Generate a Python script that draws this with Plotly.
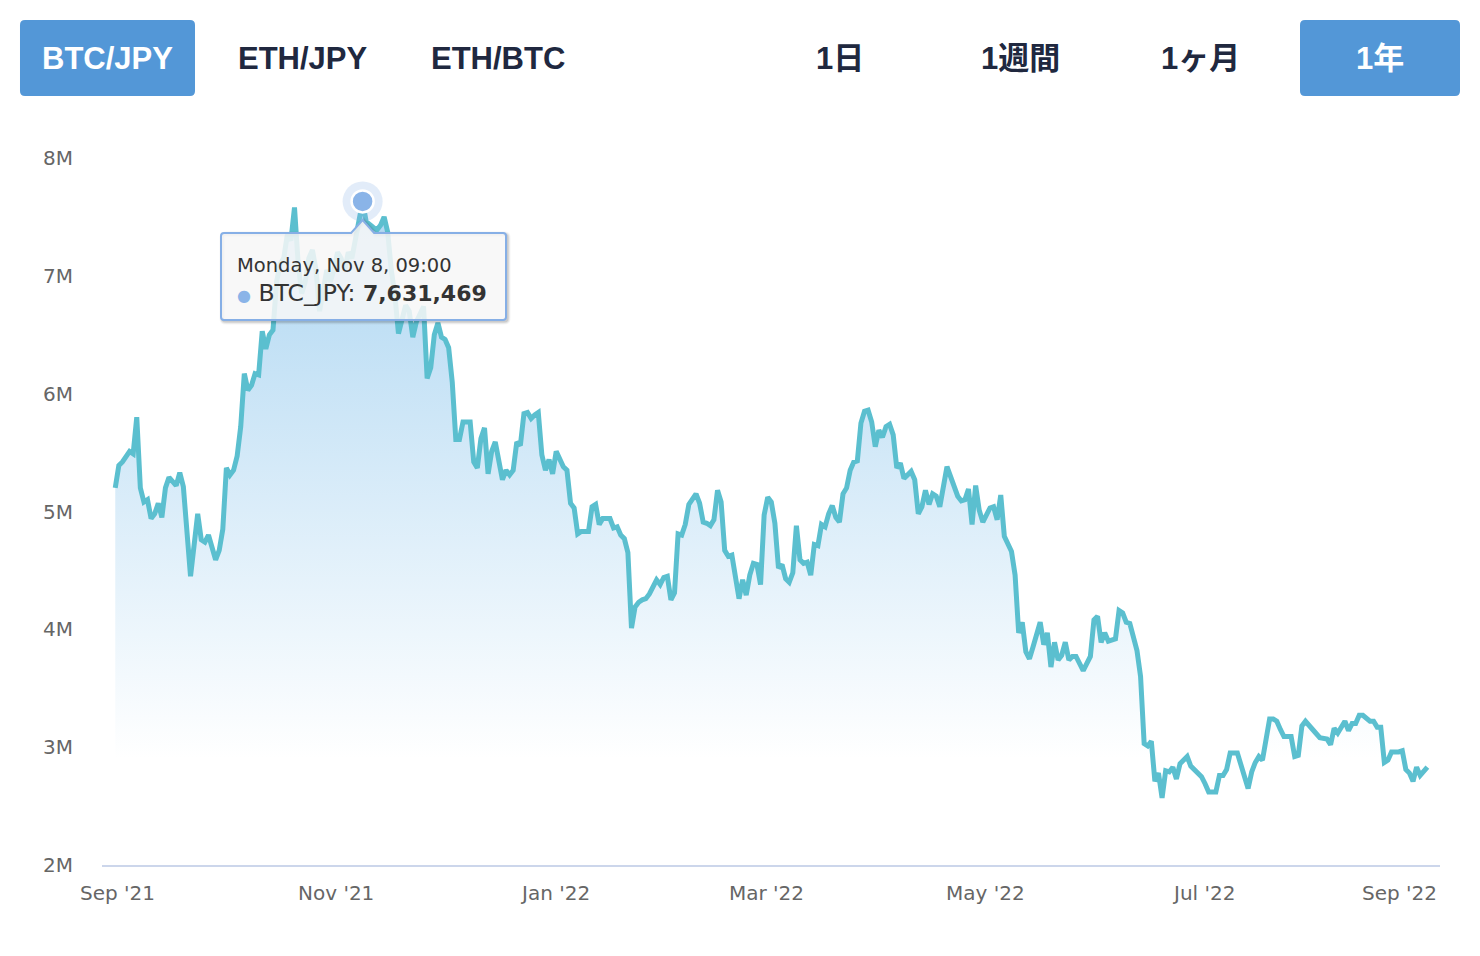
import numpy as np
import pandas as pd
import plotly.graph_objects as go

# ---------------- data ----------------
series_name = "BTC_JPY"
start_time = "2021-09-01 09:00"          # day 0 of the series (daily closes, 09:00 JST)

day_offsets = [
    -1, 0, 1, 3, 4, 5, 6, 7, 8, 9,
    10, 11, 12, 13, 14, 16, 17, 18, 20, 22,
    23, 24, 25, 27, 28, 29, 30, 31, 32, 33,
    34, 35, 36, 37, 38, 39, 40, 41, 42, 43,
    44, 45, 46, 47, 48, 49,
    50, 51, 52, 53, 54, 55, 56, 57, 58, 59,
    60, 61, 62, 63, 64, 65, 66, 67, 68, 69,
    70, 71, 72, 73, 74, 75, 76, 77, 78, 79,
    80, 81, 82, 83, 84, 85, 86, 87, 88, 89,
    90, 91, 92, 93, 94, 95, 96, 97, 98, 99,
    100, 101, 102, 103, 104, 105, 107, 108, 109, 110,
    111, 112, 113, 114, 115, 116, 117, 118, 119, 120,
    121, 122, 123, 124, 125, 126, 127, 128, 129, 130,
    131, 132, 133, 134, 135, 136, 137, 138, 139, 140,
    141, 142, 143, 144, 145, 146, 147, 148, 149,
    150, 151, 152, 153, 154, 155, 156, 157, 158, 159,
    160, 161, 162, 163, 164, 165, 166, 167, 168, 169,
    170, 171, 173, 174, 175, 176, 177, 178, 179, 180,
    181, 182, 183, 184, 185, 186, 187, 188, 189, 190,
    191, 192, 193, 194, 195, 196, 197, 198, 199,
    200, 201, 202, 203, 204, 205, 206, 207, 208, 209,
    210, 211, 212, 213, 214, 215, 216, 217, 218, 219,
    220, 221, 222, 223, 224, 225, 226, 227, 228, 229,
    231, 232, 234, 235, 236, 237, 238, 239, 240, 241,
    243, 244, 245, 246, 247, 249,
    250, 251, 252, 253, 254, 255, 256, 257, 258, 259,
    260, 261, 262, 263, 264, 265, 266, 267,
    269, 271, 272, 273, 274, 275, 276, 278, 279, 280,
    281, 282, 284, 285, 286, 287, 288, 289, 290, 291,
    292, 293, 294, 295, 296, 298, 299,
    301, 302, 303, 304, 306, 307, 308, 309, 310, 312,
    315, 316, 317, 318, 319, 320, 321, 322, 323, 324,
    325, 327, 328, 329, 330, 331, 332, 333, 335, 337,
    338, 339, 340, 342, 343, 344, 345, 346, 347, 349,
    350, 351, 352, 353, 354, 355, 357, 358, 359, 360,
    361, 362, 363, 365,
]

btc_jpy_millions = [
    5.20, 5.39, 5.42, 5.51, 5.49, 5.80, 5.20, 5.08, 5.10, 4.94,
    4.98, 5.07, 4.95, 5.20, 5.29, 5.22, 5.33, 5.21, 4.45, 4.98,
    4.76, 4.74, 4.80, 4.59, 4.67, 4.85, 5.37, 5.31, 5.35, 5.47,
    5.72, 6.17, 6.03, 6.07, 6.17, 6.16, 6.53, 6.38, 6.50, 6.54,
    6.95, 7.10, 7.15, 7.35, 7.30, 7.58,
    7.12, 6.85, 6.95, 7.15, 7.22, 7.05, 6.70, 6.90, 7.05, 6.95,
    7.05, 7.20, 7.15, 7.05, 7.20, 7.15, 7.30, 7.45, 7.631469, 7.46,
    7.43, 7.41, 7.39, 7.43, 7.50, 7.37, 7.05, 6.84, 6.51, 6.62,
    6.75, 6.70, 6.48, 6.61, 6.68, 6.74, 6.13, 6.22, 6.50, 6.60,
    6.48, 6.46, 6.39, 6.10, 5.61, 5.61, 5.76, 5.76, 5.76, 5.42,
    5.37, 5.62, 5.71, 5.32, 5.51, 5.59, 5.27, 5.35, 5.31, 5.35,
    5.59, 5.56, 5.83, 5.84, 5.79, 5.82, 5.84, 5.48, 5.35, 5.44,
    5.32, 5.51, 5.45, 5.38, 5.35, 5.07, 5.03, 4.81, 4.83, 4.83,
    4.83, 5.04, 5.06, 4.89, 4.94, 4.94, 4.94, 4.86, 4.87, 4.80,
    4.77, 4.65, 4.01, 4.19, 4.23, 4.25, 4.26, 4.30, 4.35,
    4.42, 4.38, 4.44, 4.45, 4.25, 4.31, 4.81, 4.80, 4.89, 5.06,
    5.11, 5.15, 5.07, 4.91, 4.90, 4.88, 4.93, 5.18, 5.08, 4.67,
    4.62, 4.63, 4.26, 4.42, 4.29, 4.46, 4.56, 4.55, 4.38, 4.97,
    5.12, 5.08, 4.90, 4.52, 4.55, 4.43, 4.40, 4.48, 4.88, 4.59,
    4.56, 4.57, 4.46, 4.72, 4.71, 4.89, 4.87, 4.98, 5.05,
    4.95, 4.91, 5.15, 5.20, 5.35, 5.42, 5.43, 5.75, 5.85, 5.86,
    5.76, 5.55, 5.69, 5.63, 5.72, 5.74, 5.65, 5.37, 5.41, 5.28,
    5.31, 5.34, 5.27, 4.98, 5.04, 5.18, 5.06, 5.15, 5.13, 5.04,
    5.38, 5.30, 5.13, 5.09, 5.10, 5.19, 4.89, 5.22, 5.01, 4.91,
    5.03, 5.04, 4.93, 5.14, 4.79, 4.66,
    4.46, 3.97, 4.06, 3.81, 3.75, 3.85, 3.95, 4.06, 3.87, 3.97,
    3.68, 3.89, 3.74, 3.78, 3.89, 3.74, 3.77, 3.77,
    3.65, 3.77, 4.08, 4.11, 3.89, 3.97, 3.90, 3.92, 4.16, 4.14,
    4.06, 4.05, 3.82, 3.60, 3.03, 3.01, 3.05, 2.71, 2.78, 2.57,
    2.80, 2.79, 2.83, 2.73, 2.86, 2.92, 2.84,
    2.77, 2.75, 2.69, 2.62, 2.62, 2.76, 2.76, 2.81, 2.95, 2.95,
    2.65, 2.79, 2.87, 2.92, 2.89, 3.09, 3.24, 3.24, 3.22, 3.15,
    3.09, 3.09, 2.92, 2.93, 3.18, 3.22, 3.19, 3.15, 3.08, 3.07,
    3.02, 3.16, 3.12, 3.22, 3.14, 3.20, 3.20, 3.27, 3.27, 3.22,
    3.22, 3.17, 3.17, 2.87, 2.89, 2.96, 2.96, 2.97, 2.81, 2.78,
    2.71, 2.83, 2.76, 2.83,
]

hover_day = 68   # the point under the tooltip

y_tick_values = [2e6, 3e6, 4e6, 5e6, 6e6, 7e6, 8e6]
y_tick_labels = ["2M", "3M", "4M", "5M", "6M", "7M", "8M"]
x_tick_dates = ["2021-09-01", "2021-11-01", "2022-01-01", "2022-03-01",
                "2022-05-01", "2022-07-01", "2022-09-01"]
x_tick_labels = ["Sep '21", "Nov '21", "Jan '22", "Mar '22",
                 "May '22", "Jul '22", "Sep '22"]

pair_buttons = ["BTC/JPY", "ETH/JPY", "ETH/BTC"]
period_buttons = ["1日", "1週間", "1ヶ月", "1年"]
active_pair = "BTC/JPY"
active_period = "1年"

assert len(day_offsets) == len(btc_jpy_millions)

# ---------------- derived series ----------------
dates = pd.Timestamp(start_time) + pd.to_timedelta(day_offsets, unit="D")
prices = np.round(np.array(btc_jpy_millions) * 1e6)
hi = day_offsets.index(hover_day)
hover_date = dates[hi]
hover_value = prices[hi]

# ---------------- styling / layout constants ----------------
W, H = 1480, 956
PL, PR, PT, PB = 102, 1440, 158, 865          # plot area in pixels
LINE = "#5bbfcf"
BTN = "#5397d7"
DARK = "#20283f"
AXIS_TXT = "#666666"
POINT = "#8ab4e8"
TIP_BORDER = "#86afe6"
AX_FONT = "DejaVu Sans"
BTN_FONT = "Liberation Sans, Arial, Noto Sans CJK JP"


def pxx(x):
    return (x - PL) / (PR - PL)


def pxy(y):
    return (PB - y) / (PB - PT)


def rounded_rect_paper(x0, y0, x1, y1, r):
    pts = [
        ("M", [(x0 + r, y0)]), ("L", [(x1 - r, y0)]), ("Q", [(x1, y0), (x1, y0 + r)]),
        ("L", [(x1, y1 - r)]), ("Q", [(x1, y1), (x1 - r, y1)]),
        ("L", [(x0 + r, y1)]), ("Q", [(x0, y1), (x0, y1 - r)]),
        ("L", [(x0, y0 + r)]), ("Q", [(x0, y0), (x0 + r, y0)]),
    ]
    s = ""
    for cmd, ps in pts:
        s += cmd + " " + " ".join(f"{pxx(a):.5f},{pxy(b):.5f}" for a, b in ps) + " "
    return s + "Z"


def anchored_path(cmds):
    """Path in pixel offsets (dx, down) relative to the hovered point."""
    s = ""
    for cmd, ps in cmds:
        s += cmd + " " + " ".join(f"{dx:.2f},{-dn:.2f}" for dx, dn in ps) + " "
    return s + "Z"


shapes = []
annotations = []

# ---- selector buttons ----
pair_left = [20, 215, 410]
period_left = [760, 940, 1120, 1300]
for label, x0 in zip(pair_buttons, pair_left):
    active = label == active_pair
    if active:
        shapes.append(dict(type="path", xref="paper", yref="paper",
                           path=rounded_rect_paper(x0, 20, x0 + 175, 96, 5),
                           fillcolor=BTN, line=dict(width=0), layer="above"))
    annotations.append(dict(xref="paper", yref="paper", x=pxx(x0 + 87.5), y=pxy(58),
                            text=label, showarrow=False, xanchor="center", yanchor="middle",
                            font=dict(family=BTN_FONT, size=31, weight="bold",
                                      color="white" if active else DARK)))
for label, x0 in zip(period_buttons, period_left):
    active = label == active_period
    if active:
        shapes.append(dict(type="path", xref="paper", yref="paper",
                           path=rounded_rect_paper(x0, 20, x0 + 160, 96, 5),
                           fillcolor=BTN, line=dict(width=0), layer="above"))
    annotations.append(dict(xref="paper", yref="paper", x=pxx(x0 + 80), y=pxy(58),
                            text=label, showarrow=False, xanchor="center", yanchor="middle",
                            font=dict(family=BTN_FONT, size=31, weight="bold",
                                      color="white" if active else DARK)))

# ---- x tick labels (last one justified inside the chart, as in the reference) ----
for i, (d, lab) in enumerate(zip(x_tick_dates, x_tick_labels)):
    last = i == len(x_tick_dates) - 1
    annotations.append(dict(xref="x", yref="paper", x=d, y=0, text=lab, showarrow=False,
                            xanchor="right" if last else "center", yanchor="middle",
                            xshift=13 if last else 0, yshift=-28,
                            font=dict(family=AX_FONT, size=20, color=AXIS_TXT)))

# ---- tooltip ----
tl, tr, ttop, tbot, apex, hb, r = -141.6, 143.4, 31.6, 118.6, 18.6, 11.5, 3
tip_cmds = [
    ("M", [(tl + r, ttop)]), ("L", [(-hb, ttop)]), ("L", [(0, apex)]), ("L", [(hb, ttop)]),
    ("L", [(tr - r, ttop)]), ("Q", [(tr, ttop), (tr, ttop + r)]),
    ("L", [(tr, tbot - r)]), ("Q", [(tr, tbot), (tr - r, tbot)]),
    ("L", [(tl + r, tbot)]), ("Q", [(tl, tbot), (tl, tbot - r)]),
    ("L", [(tl, ttop + r)]), ("Q", [(tl, ttop), (tl + r, ttop)]),
]
shadow_cmds = [(c, [(a + 1.5, b + 1.5) for a, b in ps]) for c, ps in tip_cmds]
for w, op in [(6, 0.04), (4, 0.07), (2, 0.10)]:
    shapes.append(dict(type="path", xref="x", yref="y", xsizemode="pixel", ysizemode="pixel",
                       xanchor=hover_date, yanchor=hover_value, path=anchored_path(shadow_cmds),
                       line=dict(color=f"rgba(0,0,0,{op})", width=w),
                       fillcolor="rgba(0,0,0,0)", layer="above"))
shapes.append(dict(type="path", xref="x", yref="y", xsizemode="pixel", ysizemode="pixel",
                   xanchor=hover_date, yanchor=hover_value, path=anchored_path(tip_cmds),
                   line=dict(color=TIP_BORDER, width=2),
                   fillcolor="rgba(247,247,247,0.86)", layer="above"))

date_txt = hover_date.strftime("%A, %b %-d, %H:%M")
value_txt = f"{hover_value:,.0f}"
annotations.append(dict(xref="x", yref="y", x=hover_date, y=hover_value, text=date_txt,
                        showarrow=False, xanchor="left", yanchor="middle",
                        xshift=-127.6, yshift=-63.6,
                        font=dict(family=AX_FONT, size=19.5, color="#333333")))
annotations.append(dict(xref="x", yref="y", x=hover_date, y=hover_value,
                        text=(f"<span style='color:{POINT};font-size:16px'>●</span> "
                              f"{series_name}: <b><span style='font-size:22px'>{value_txt}</span></b>"),
                        showarrow=False, xanchor="left", yanchor="middle",
                        xshift=-127.6, yshift=-91.6,
                        font=dict(family=AX_FONT, size=23.5, color="#333333")))

# ---------------- figure ----------------
fig = go.Figure()
fig.add_trace(go.Scatter(
    x=dates, y=prices, mode="lines", name=series_name,
    line=dict(color=LINE, width=5),
    fill="tozeroy",
    fillgradient=dict(type="vertical",
                      colorscale=[[0.0, "rgba(255,255,255,1)"], [1.0, "rgb(175,215,242)"]],
                      start=2.9e6, stop=7.6e6),
    hoverinfo="skip",
))
fig.add_trace(go.Scatter(x=[hover_date], y=[hover_value], mode="markers",
                         marker=dict(size=40, color="rgba(138,180,232,0.25)", line=dict(width=0)),
                         hoverinfo="skip"))
fig.add_trace(go.Scatter(x=[hover_date], y=[hover_value], mode="markers",
                         marker=dict(size=22, color=POINT, line=dict(color="white", width=2.5)),
                         hoverinfo="skip"))

x_start = pd.Timestamp("2021-09-01") - pd.Timedelta(days=4.32)
x_end = pd.Timestamp("2021-09-01") + pd.Timedelta(days=368.9)

fig.update_layout(
    width=W, height=H,
    margin=dict(l=PL, r=W - PR, t=PT, b=H - PB, pad=0),
    paper_bgcolor="white", plot_bgcolor="white",
    showlegend=False, hovermode=False,
    shapes=shapes, annotations=annotations,
    xaxis=dict(type="date", range=[x_start, x_end], showgrid=False, zeroline=False,
               showline=True, linecolor="#ccd6eb", linewidth=2, showticklabels=False,
               ticks="", fixedrange=True),
    yaxis=dict(range=[2e6, 8e6], tickvals=y_tick_values, ticktext=y_tick_labels,
               showgrid=False, zeroline=False, showline=False, ticks="",
               ticklabelstandoff=28,
               tickfont=dict(family=AX_FONT, size=20, color=AXIS_TXT), fixedrange=True),
)

fig.write_html("out.html", include_plotlyjs=True,
               config={"displayModeBar": False, "staticPlot": True})
